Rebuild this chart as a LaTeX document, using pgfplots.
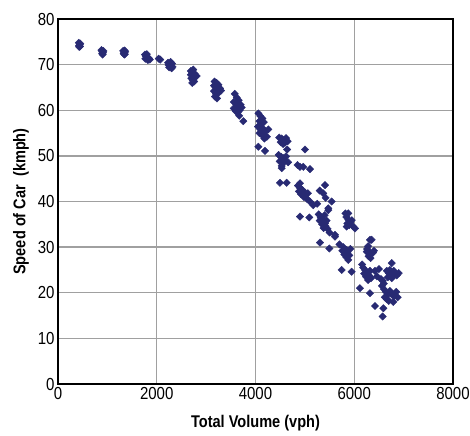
\documentclass[border=0pt]{standalone}
\usepackage{fontspec}
\setmainfont{Liberation Sans}[FakeStretch=0.86]
\usepackage{pgfplots}
\pgfplotsset{compat=1.18}
\definecolor{navy}{RGB}{40,42,115}
\definecolor{gridgray}{RGB}{160,160,160}
\begin{document}
\begin{tikzpicture}
\begin{axis}[
  scale only axis, width=395bp, height=365bp,
  xmin=0, xmax=8000, ymin=0, ymax=80,
  xtick={0,2000,4000,6000,8000}, ytick={0,10,...,80},
  scaled x ticks=false,
  xticklabel style={/pgf/number format/1000 sep={}},
  /pgf/number format/assume math mode=true,
  tick label style={font=\fontsize{17.5}{17.5}\selectfont},
  major tick length=0pt,
  grid=major, major grid style={gridgray, line width=1.3bp},
  axis line style={black, line width=1.2bp},
  xlabel={\textbf{Total Volume (vph)}},
  ylabel={\textbf{Speed of Car\ \ (kmph)}},
  label style={font=\fontsize{17}{17}\selectfont},
  xlabel style={yshift=-9bp},
  ylabel style={yshift=2bp},
]
\addplot[only marks, mark=square*, mark size=2.6bp, color=navy, mark options={rotate=45, fill=navy, draw=navy}] coordinates {
(420,74.8) (440,74.4) (430,73.9) (450,74.6) (425,74.1) (445,74.0)
(880,73.2) (900,72.8) (920,73.0) (895,72.4) (910,72.6) (890,73.0) (905,72.2)
(1320,73.0) (1340,72.6) (1360,72.8) (1345,72.2) (1330,72.4) (1355,72.3) (1350,73.1)
(1760,72.2) (1790,71.8) (1810,71.5) (1840,71.4) (1770,71.3) (1800,72.3) (1860,71.1) (1820,71.0) (1780,71.9)
(2040,71.3) (2070,71.1)
(2230,70.4) (2260,70.0) (2290,69.6) (2310,70.2) (2250,69.4) (2280,70.6) (2320,69.5) (2240,69.9) (2300,69.2)
(2690,68.6) (2720,68.2) (2750,67.7) (2780,67.3) (2700,67.0) (2730,66.6) (2760,66.3) (2810,67.5) (2740,68.9) (2690,67.8) (2770,68.0) (2720,66.0)
(3170,66.3) (3210,66.0) (3250,65.6) (3190,65.0) (3230,64.6) (3280,64.8) (3160,64.2) (3200,63.6) (3250,63.8) (3180,63.0) (3220,62.6) (3300,64.3) (3240,65.2) (3160,65.4)
(3580,63.6) (3620,62.8) (3660,62.2) (3600,61.5) (3640,61.0) (3700,61.2) (3560,60.4) (3600,59.8) (3640,59.5) (3680,60.0) (3720,60.6) (3620,60.3) (3560,61.8) (3670,58.8) (3753,57.6)
(4060,59.3) (4100,58.7) (4140,58.2) (4080,57.6) (4120,57.0) (4170,57.4) (4050,56.4) (4100,55.8) (4150,56.0) (4200,55.4) (4080,55.0) (4130,54.6) (4230,54.2) (4180,53.8) (4057,52.0) (4192,51.1) (4260,55.8)
(4480,54.0) (4530,53.8) (4580,53.5) (4620,53.9) (4510,53.0) (4560,52.6) (4650,53.2) (4600,52.9) (4640,51.4)
(5003,51.4)
(4470,50.2) (4520,49.8) (4570,49.5) (4620,49.9) (4490,48.8) (4550,48.4) (4600,48.9) (4660,48.6) (4530,47.8) (4530,47.3)
(4901,47.6) (5104,47.1) (4968,47.6) (4850,48.0)
(4496,44.1) (4631,44.1) (4901,44.0)
(4860,43.5) (4900,43.0) (4950,42.5) (5000,42.0) (4920,41.6) (4980,41.0) (5040,40.6) (4880,42.2) (5060,41.8) (5100,40.0)
(5408,43.6) (5373,41.8) (5300,42.4) (5420,40.8) (5475,38.5) (5171,39.2) (5250,39.5)
(4901,36.7) (5090,36.5)
(5280,37.2) (5320,36.6) (5360,36.0) (5400,35.5) (5300,35.8) (5350,35.0) (5420,34.6) (5460,34.0) (5500,33.2) (5380,34.2) (5440,35.8) (5330,36.2) (5400,37.0)
(5880,37.4) (5846,34.5) (6015,34.1) (5610,32.3) (5306,31.0) (5495,29.7) (5846,29.4) (6319,31.6) (6253,29.0)
(5543,40.0) (5475,38.1) (5408,35.2)
(5840,36.6) (5880,36.0) (5920,35.5) (5860,35.2) (5900,34.8) (5981,34.5) (5950,35.9) (5820,37.4)
(5610,32.7)
(5780,30.0) (5820,29.4) (5860,28.8) (5900,28.2) (5800,28.4) (5840,27.8) (5880,27.2) (5760,29.2) (5920,29.6) (5700,30.6)
(6352,31.6) (6260,29.6) (6300,29.0) (6340,28.5) (6380,28.8) (6290,28.0) (6330,27.6) (6400,29.2) (6280,30.2)
(5745,25.0) (5947,24.6)
(6180,25.5) (6220,25.0) (6260,24.4) (6300,23.8) (6240,23.5) (6200,24.2) (6320,24.8) (6280,22.8) (6160,26.2) (6340,23.2)
(6420,24.8) (6460,23.6) (6500,25.2)
(6116,21.0) (6319,19.9)
(6759,26.5) (6660,24.8) (6700,24.3) (6740,23.8) (6780,24.2) (6820,24.0) (6860,23.8) (6720,25.0) (6680,23.4) (6800,24.8) (6900,24.3) (6760,23.2)
(6560,21.5) (6600,20.8) (6640,20.2) (6680,19.6) (6720,20.4) (6760,19.8) (6620,19.0) (6660,18.6) (6700,18.2) (6800,19.2) (6850,20.2) (6580,22.6) (6540,23.0) (6600,22.0) (6880,19.0)
(6420,17.1) (6589,16.6) (6576,14.8) (6791,18.0)
};
\end{axis}
\pgfresetboundingbox
\path[use as bounding box] (-58bp,-52bp) rectangle (412bp,384bp);
\end{tikzpicture}
\end{document}
